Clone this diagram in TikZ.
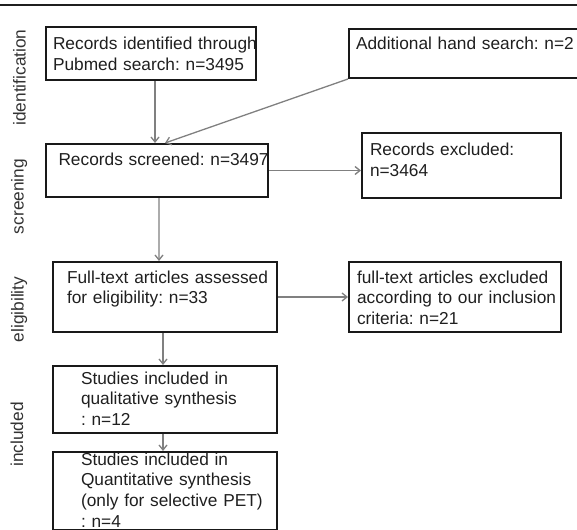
\documentclass[tikz,border=0pt]{standalone}
\usepackage{fontspec}
\setmainfont{Liberation Sans}
\usetikzlibrary{arrows.meta}
\newcommand\boxlines[2]{\hspace*{#1}\begin{tabular}[t]{@{}l@{}}#2\end{tabular}}
\begin{document}
\frenchspacing
\begin{tikzpicture}[x=1bp,y=-1bp,
  boxstyle/.style={draw=black!90, line width=2bp, anchor=north west, rectangle,
    inner xsep=0pt, inner ysep=0pt, align=left, text=black!88,
    font=\fontsize{17.3bp}{20.7bp}\selectfont\frenchspacing},
  arr/.style={draw=black!50, line width=1.3bp, -{Straight Barb[length=5bp,width=8bp]}},
  phase/.style={rotate=90, anchor=base, text=black!80, inner sep=0pt,
    font=\fontsize{17.3bp}{20.7bp}\selectfont}]
\useasboundingbox (0,0) rectangle (577,530);
\draw[line width=2.5bp, black!88] (0,5) -- (577,5);

\node[boxstyle, text width=210bp, text height=23bp, text depth=30bp] (b1) at (45,26)
  {\boxlines{7bp}{Records identified through\\Pubmed search: n=3495}};
\node[boxstyle, text width=231bp, text height=21bp, text depth=28bp] (b2) at (348,28)
  {\boxlines{7bp}{Additional hand search: n=2}};
\node[boxstyle, text width=222bp, text height=22bp, text depth=31bp] (b3) at (45,143)
  {\boxlines{12.5bp}{Records screened: n=3497}};
\node[boxstyle, text width=199bp, text height=23bp, text depth=42bp] (b4) at (361,132)
  {\boxlines{8bp}{Records excluded:\\n=3464}};
\node[boxstyle, text width=224bp, text height=21bp, text depth=49bp] (b5) at (52,261)
  {\boxlines{14bp}{Full-text articles assessed\\for eligibility: n=33}};
\node[boxstyle, text width=212bp, text height=21bp, text depth=49bp] (b6) at (348,261)
  {\boxlines{8bp}{full-text articles excluded\\according to our inclusion\\criteria: n=21}};
\node[boxstyle, text width=224bp, text height=18bp, text depth=49bp] (b7) at (52,365)
  {\boxlines{28bp}{Studies included in\\qualitative synthesis\\: n=12}};
\node[boxstyle, text width=224bp, text height=13bp, text depth=65bp] (b8) at (52,451)
  {\boxlines{28bp}{Studies included in\\Quantitative synthesis\\(only for selective PET)\\: n=4}};

\node[phase] (p1) at (25.5,77.5) {identification};
\node[phase] (p2) at (23.5,196.5) {screening};
\node[phase] (p3) at (23.5,309.5) {eligibility};
\node[phase] (p4) at (23,434.5) {included};

\draw[arr] ([xshift=110bp]b1.south west) -- ([xshift=110bp]b3.north west);
\draw[arr] (b2.south west) -- ([xshift=120bp]b3.north west);
\draw[arr] (b3.east) -- (b3.east -| b4.west);
\draw[arr] ([xshift=114bp]b3.south west) -- ([xshift=107bp]b5.north west);
\draw[arr] (b5.east) -- (b5.east -| b6.west);
\draw[arr] ([xshift=111bp]b5.south west) -- ([xshift=111bp]b7.north west);
\draw[arr] ([xshift=111bp]b7.south west) -- ([xshift=111bp]b8.north west);
\end{tikzpicture}
\end{document}
